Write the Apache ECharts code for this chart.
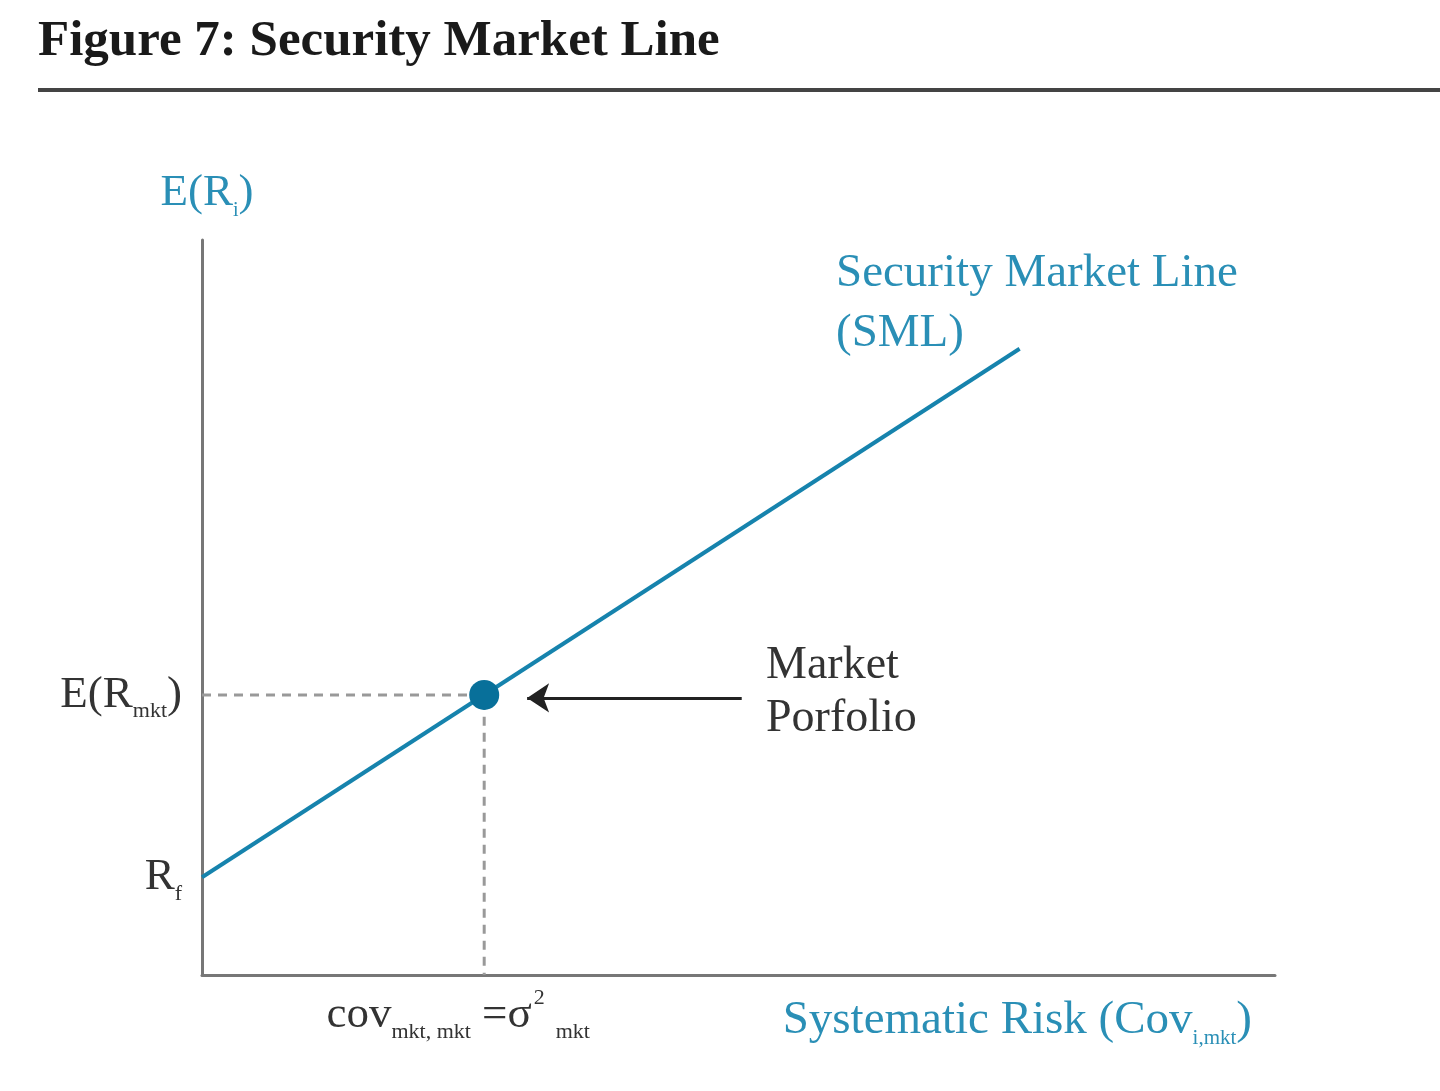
<!DOCTYPE html>
<html>
<head>
<meta charset="utf-8">
<title>Figure 7: Security Market Line</title>
<script src="https://cdn.jsdelivr.net/npm/echarts@6/dist/echarts.min.js"></script>
<style>
  html, body { margin: 0; padding: 0; background: #fff; }
  #chart { width: 1440px; height: 1091px; }
</style>
</head>
<body>
<div id="chart"></div>
<script>
// abstract units: x = systematic risk, y = expected return
const smlX = [0, 7.62];
const smlY = [1.33, 8.52];
const marketPoint = [2.63, 3.81];
const arrowFrom = [5.03, 3.77];
const arrowTo = [3.03, 3.77];

const yTicks = [1.33, 3.81];
const yTickLabels = ['{m|R}{s|f}', '{m|E(R}{s|mkt}{m|)}'];
const xTicks = [2.63];
const xTickLabels = ['{m|cov}{s|mkt, mkt}{m| =σ}{p|2}{s|  mkt}'];

const teal = '#1683ad';
const tealText = '#2a8fb6';
const dark = '#333';
const serif = '"Liberation Serif", "DejaVu Serif", serif';

const chart = echarts.init(document.getElementById('chart'));

const subRich = {
  m: { fontFamily: serif, fontSize: 45, color: dark },
  s: { fontFamily: serif, fontSize: 22, color: dark, verticalAlign: 'bottom', padding: [0, 0, -5, 0] },
  p: { fontFamily: serif, fontSize: 22, color: dark, verticalAlign: 'top', padding: [-6, 0, 0, 2] }
};

const option = {
  animation: false,
  backgroundColor: '#fff',
  grid: { left: 202, top: 240, right: 165, bottom: 116 },
  xAxis: {
    type: 'value',
    min: 0,
    max: 10,
    splitLine: { show: false },
    axisTick: { show: false },
    axisLine: { show: true, onZero: false, lineStyle: { color: '#777', width: 3 } },
    axisLabel: {
      customValues: xTicks,
      formatter: (v) => xTickLabels[xTicks.indexOf(v)] || '',
      margin: 18,
      padding: [0, 52, 0, 0],
      rich: subRich
    },
    name: '{t|Systematic Risk (Cov}{ts|i,mkt}{t|)}',
    nameLocation: 'end',
    nameGap: -23,
    nameTextStyle: {
      align: 'right',
      verticalAlign: 'top',
      padding: [22, 0, 0, 0],
      rich: {
        t: { fontFamily: serif, fontSize: 47, color: tealText },
        ts: { fontFamily: serif, fontSize: 21, color: tealText, verticalAlign: 'bottom', padding: [0, 0, -5, 0] }
      }
    }
  },
  yAxis: {
    type: 'value',
    min: 0,
    max: 10,
    splitLine: { show: false },
    axisTick: { show: false },
    axisLine: { show: true, onZero: false, lineStyle: { color: '#777', width: 3 } },
    axisLabel: {
      customValues: yTicks,
      formatter: (v) => yTickLabels[yTicks.indexOf(v)] || '',
      margin: 20,
      rich: subRich
    },
    name: '{t|E(R}{ts|i}{t|)}',
    nameLocation: 'end',
    nameGap: 24,
    nameTextStyle: {
      align: 'center',
      padding: [0, 0, 0, 10],
      rich: {
        t: { fontFamily: serif, fontSize: 45, color: tealText },
        ts: { fontFamily: serif, fontSize: 20, color: tealText, verticalAlign: 'bottom', padding: [0, 0, -5, 0] }
      }
    }
  },
  graphic: [
    {
      type: 'text', left: 38, top: 16,
      style: { text: 'Figure 7: Security Market Line', font: 'bold 51px ' + serif, fill: '#1a1a1a' }
    },
    {
      type: 'line', shape: { x1: 38, y1: 90, x2: 1440, y2: 90 },
      style: { stroke: '#444', lineWidth: 4 }
    },
    {
      type: 'text', left: 836, top: 244,
      style: { text: 'Security Market Line\n(SML)', font: '47px ' + serif, fill: tealText, lineHeight: 60 }
    },
    {
      type: 'text', left: 766, top: 639,
      style: { text: 'Market\nPorfolio', font: '46px ' + serif, fill: dark, lineHeight: 53 }
    }
  ],
  series: [
    {
      // dashed guides to the market portfolio
      type: 'line',
      data: [[0, marketPoint[1]], marketPoint, [marketPoint[0], 0]],
      symbol: 'none',
      lineStyle: { color: '#999', width: 3, type: [9, 7] },
      z: 1
    },
    {
      name: 'SML',
      type: 'line',
      data: smlX.map((x, i) => [x, smlY[i]]),
      symbol: 'none',
      lineStyle: { color: teal, width: 4 },
      z: 2
    },
    {
      type: 'scatter',
      data: [marketPoint],
      symbolSize: 30,
      itemStyle: { color: '#08709a', opacity: 1 },
      z: 3
    },
    {
      type: 'lines',
      coordinateSystem: 'cartesian2d',
      data: [{ coords: [arrowFrom, arrowTo] }],
      symbol: ['none', 'arrow'],
      symbolSize: 22,
      lineStyle: { color: '#222', width: 3, opacity: 1 },
      z: 3
    }
  ]
};

chart.setOption(option);
</script>
</body>
</html>
